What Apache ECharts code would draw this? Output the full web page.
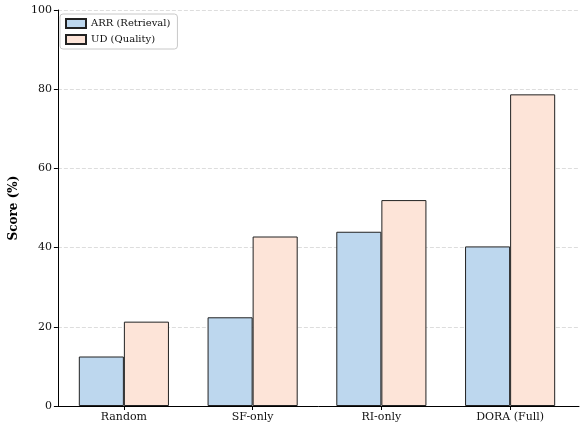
<!DOCTYPE html>
<html><head><meta charset="utf-8">
<script src="https://cdn.jsdelivr.net/npm/echarts@6/dist/echarts.min.js"></script>
<style>html,body{margin:0;padding:0;background:#fff}#c{width:582px;height:429px}</style>
</head><body><div id="c"></div>
<script>
const categories = ['Random', 'SF-only', 'RI-only', 'DORA (Full)'];
const arrValues = [12.5, 22.4, 44.0, 40.3];
const udValues = [21.3, 42.8, 52.0, 78.7];
const yTicks = [0, 20, 40, 60, 80, 100];

const FONT = 'DejaVu Serif';
const chart = echarts.init(document.getElementById('c'), null, {renderer: 'canvas'});
const axisW = 524; // frame width
const unitPx = axisW / 4.07;
const bandPad = (4.07 - 4) / 2 * unitPx;

chart.setOption({
  animation: false,
  textStyle: {fontFamily: FONT},
  grid: [
    {left: 55, right: 3, top: 10, bottom: 23, containLabel: false},
    {left: 55 + bandPad, right: 3 + bandPad, top: 10, bottom: 23, containLabel: false}
  ],
  legend: {
    left: 60, top: 14,
    orient: 'vertical',
    icon: 'rect',
    itemWidth: 20, itemHeight: 9, itemGap: 5,
    padding: [4, 7, 4, 5],
    borderColor: '#c8c8c8', borderWidth: 1, borderRadius: 3,
    backgroundColor: 'rgba(255,255,255,0.8)',
    textStyle: {fontFamily: FONT, fontSize: 10, color: '#111'},
    data: ['ARR (Retrieval)', 'UD (Quality)']
  },
  xAxis: [
    {gridIndex: 0, type: 'value', min: 0, max: 1, show: true,
     axisLine: {show: true, lineStyle: {color: '#000', width: 1}},
     axisTick: {show: false}, axisLabel: {show: false}, splitLine: {show: false}},
    {gridIndex: 1, type: 'category', data: categories,
     axisLine: {show: false},
     axisTick: {show: true, alignWithLabel: true, length: 4, lineStyle: {color: '#000'}},
     axisLabel: {fontFamily: FONT, fontSize: 11, color: '#111', margin: 6},
     splitLine: {show: false}}
  ],
  yAxis: [
    {gridIndex: 0, type: 'value', min: 0, max: 100, interval: 20,
     name: 'Score (%)', nameLocation: 'middle', nameGap: 29,
     nameTextStyle: {fontFamily: FONT, fontSize: 12, fontWeight: 'bold', color: '#000'},
     axisLine: {show: true, lineStyle: {color: '#000', width: 1}},
     axisTick: {show: true, length: 4, lineStyle: {color: '#000'}},
     axisLabel: {fontFamily: FONT, fontSize: 11, color: '#111', margin: 6,
       formatter: v => yTicks.includes(v) ? String(v) : ''},
     splitLine: {show: true, lineStyle: {color: '#d4d4d4', type: [4, 2], width: 0.8}}},
    {gridIndex: 1, type: 'value', min: 0, max: 100, interval: 20, show: false,
     splitLine: {show: false}}
  ],
  series: [
    {name: 'ARR (Retrieval)', type: 'bar', xAxisIndex: 1, yAxisIndex: 1,
     data: arrValues, barWidth: 0.35 * unitPx, barGap: '0%',
     itemStyle: {color: '#bdd7ee', borderColor: '#222', borderWidth: 1}},
    {name: 'UD (Quality)', type: 'bar', xAxisIndex: 1, yAxisIndex: 1,
     data: udValues, barWidth: 0.35 * unitPx, barGap: '0%',
     itemStyle: {color: '#fde4d8', borderColor: '#222', borderWidth: 1}}
  ]
});
</script></body></html>
